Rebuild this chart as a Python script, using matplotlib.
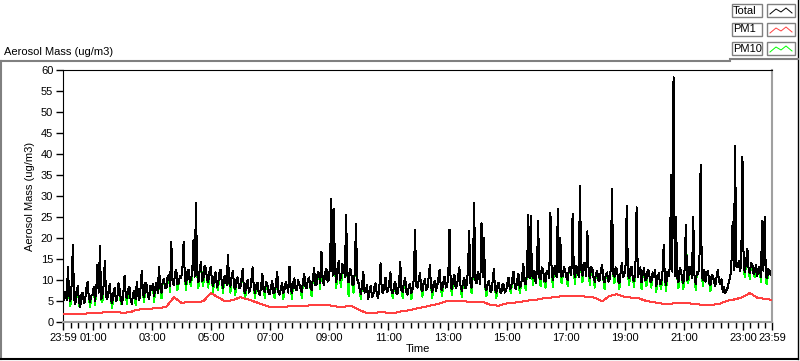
import numpy as np
import matplotlib
matplotlib.use('Agg')
import matplotlib.pyplot as plt
from matplotlib.lines import Line2D
from matplotlib.patches import Rectangle

plt.rcParams['font.family'] = ['Liberation Sans', 'DejaVu Sans']
plt.rcParams['font.size'] = 8

# 2.5-minute samples starting 23:59, one row per hour
total = [
    4.5, 6.0, 7.2, 5.2, 13.0, 6.4, 5.0, 8.8, 18.3, 5.6, 4.2, 7.4, 8.5, 5.0, 3.6, 6.6, 7.0, 4.4, 5.2, 8.0, 9.5, 5.8, 4.8, 6.2,
    6.5, 8.4, 5.0, 7.6, 13.6, 7.0, 18.0, 5.4, 6.2, 8.8, 14.5, 6.0, 5.5, 7.2, 9.0, 5.2, 4.6, 7.0, 8.2, 5.0, 5.3, 9.2, 7.8, 5.4,
    4.3, 7.0, 11.0, 6.2, 5.6, 7.8, 8.4, 5.0, 4.4, 6.8, 7.5, 5.4, 9.6, 6.4, 5.2, 8.0, 12.2, 6.6, 6.0, 9.4, 8.8, 6.2, 5.5, 8.6,
    7.6, 9.0, 6.2, 8.2, 9.4, 7.0, 13.0, 8.4, 7.0, 9.6, 10.2, 8.0, 8.0, 10.8, 11.3, 8.6, 19.0, 9.4, 8.8, 11.6, 12.5, 9.0, 9.2, 11.0,
    10.5, 12.6, 19.0, 10.4, 9.0, 11.8, 12.4, 9.6, 10.1, 12.0, 19.5, 10.8, 28.3, 11.6, 9.4, 12.2, 14.2, 9.8, 10.0, 13.4, 12.8, 10.2, 9.6, 12.0,
    13.2, 9.8, 8.6, 10.8, 11.8, 8.4, 9.0, 11.6, 12.5, 9.4, 8.2, 10.6, 11.0, 8.8, 16.0, 9.6, 8.4, 10.8, 12.2, 8.6, 7.8, 10.2, 10.6, 8.0,
    8.0, 10.4, 12.6, 7.8, 6.8, 9.2, 10.0, 7.0, 7.4, 9.8, 13.0, 8.2, 7.0, 8.8, 9.4, 6.8, 6.4, 8.6, 11.5, 7.4, 7.2, 9.6, 9.0, 7.0,
    6.6, 8.4, 9.8, 6.8, 7.0, 9.0, 12.0, 7.2, 6.5, 8.0, 9.2, 6.8, 7.8, 9.6, 8.6, 7.0, 13.2, 8.2, 6.9, 9.4, 10.4, 7.6, 7.5, 10.0,
    9.2, 7.8, 7.2, 9.6, 11.5, 8.4, 8.0, 10.2, 10.6, 8.2, 7.6, 10.4, 12.8, 8.8, 9.0, 12.0, 11.4, 9.2, 16.7, 10.0, 8.8, 11.8, 12.6, 9.6,
    10.2, 13.6, 29.3, 11.0, 26.9, 12.4, 9.6, 12.8, 14.5, 10.0, 10.8, 13.8, 13.4, 10.6, 25.5, 11.4, 9.4, 12.6, 12.2, 9.0, 8.8, 11.6, 23.4, 10.2,
    9.4, 7.8, 6.6, 9.0, 12.0, 7.0, 7.2, 8.8, 5.4, 7.6, 8.6, 6.0, 6.2, 8.4, 9.2, 6.4, 5.8, 8.2, 14.0, 7.2, 6.8, 8.6, 10.5, 7.2,
    7.4, 9.2, 11.8, 7.0, 6.8, 8.8, 9.6, 6.6, 7.0, 9.0, 14.2, 7.6, 7.2, 9.4, 10.4, 7.0, 6.5, 8.6, 9.0, 6.8, 7.8, 10.2, 22.0, 8.6,
    8.2, 10.0, 11.6, 8.0, 7.4, 9.4, 10.2, 7.6, 8.0, 10.6, 13.6, 8.4, 7.2, 9.0, 9.8, 7.4, 8.6, 10.4, 12.4, 8.0, 7.6, 9.6, 10.8, 8.2,
    8.4, 11.0, 22.0, 8.6, 7.8, 10.2, 11.2, 8.0, 8.6, 10.8, 13.0, 8.4, 7.4, 9.6, 10.6, 8.0, 9.0, 12.4, 21.6, 9.2, 8.2, 11.6, 28.3, 10.0,
    9.2, 12.0, 10.8, 9.0, 23.5, 10.6, 20.0, 8.4, 7.6, 9.2, 9.8, 7.4, 7.2, 9.6, 12.6, 7.8, 7.0, 8.8, 9.4, 7.2, 6.8, 9.0, 8.8, 7.0,
    7.4, 9.2, 10.6, 7.8, 8.2, 10.4, 12.0, 8.4, 7.8, 10.0, 11.4, 8.2, 8.6, 10.8, 13.8, 9.2, 9.0, 12.0, 25.5, 10.4, 25.2, 11.0, 10.4, 12.2,
    9.2, 12.4, 24.0, 10.6, 10.2, 13.0, 12.6, 9.8, 9.6, 12.2, 11.8, 10.4, 26.0, 11.6, 10.0, 12.8, 13.4, 10.6, 27.0, 12.0, 20.0, 10.8, 11.0, 13.2,
    12.2, 10.6, 10.0, 12.8, 13.0, 11.2, 25.7, 12.0, 10.6, 13.4, 12.4, 10.8, 32.4, 12.6, 11.0, 14.0, 13.6, 11.0, 21.6, 12.2, 10.4, 13.0, 12.8, 10.6,
    9.6, 11.6, 12.2, 9.8, 10.0, 12.4, 13.6, 10.2, 9.4, 11.2, 11.8, 9.6, 10.2, 12.6, 31.7, 11.4, 10.8, 13.0, 12.6, 10.0, 9.2, 11.8, 14.0, 10.6,
    11.2, 13.4, 27.6, 11.0, 10.4, 12.6, 13.2, 10.2, 9.8, 12.8, 27.3, 10.8, 11.6, 13.0, 9.4, 11.4, 12.8, 10.0, 10.2, 12.4, 12.0, 9.8, 9.6, 11.8,
    10.8, 12.4, 8.6, 10.6, 11.6, 9.0, 9.2, 11.8, 18.3, 10.0, 8.8, 12.0, 11.0, 13.2, 35.0, 12.0, 58.3, 11.0, 25.0, 10.6, 9.4, 12.8, 12.4, 10.2,
    9.2, 12.6, 23.0, 10.0, 10.6, 13.2, 12.8, 10.4, 25.0, 11.2, 9.0, 12.0, 11.4, 13.6, 37.4, 10.8, 10.0, 12.4, 9.6, 11.8, 12.2, 9.4, 8.8, 11.2,
    11.0, 9.4, 8.6, 10.8, 12.4, 9.6, 9.0, 10.2, 7.2, 8.4, 6.8, 7.6, 8.2, 9.8, 10.4, 13.6, 23.8, 12.4, 42.0, 13.2, 13.0, 14.6, 12.2, 13.8,
    39.3, 12.8, 12.0, 14.4, 17.5, 12.4, 11.6, 14.0, 13.8, 11.4, 12.0, 13.6, 11.0, 12.8, 13.2, 10.6, 24.0, 12.2, 25.0, 11.0, 10.4, 12.6, 12.2, 11.2,
]

pm10 = [
    4.5, 6.0, 7.2, 5.2, 13.0, 6.4, 3.8, 8.8, 18.3, 5.6, 4.2, 7.4, 8.5, 3.8, 3.6, 6.6, 7.0, 4.4, 5.2, 8.0, 9.5, 5.8, 3.6, 6.2,
    6.5, 8.4, 4.0, 7.6, 13.6, 7.0, 18.0, 5.4, 4.8, 8.8, 14.5, 6.0, 5.5, 7.2, 9.0, 5.2, 3.4, 7.0, 8.2, 5.0, 5.3, 9.2, 7.8, 4.2,
    4.3, 7.0, 11.0, 6.2, 4.2, 7.8, 8.4, 5.0, 4.4, 6.8, 7.5, 4.0, 9.6, 6.4, 5.2, 8.0, 12.2, 6.6, 4.8, 9.4, 8.8, 6.2, 5.5, 8.6,
    7.6, 9.0, 4.8, 8.2, 9.4, 7.0, 13.0, 8.4, 5.6, 9.6, 10.2, 8.0, 8.0, 10.8, 11.3, 7.2, 19.0, 9.4, 8.8, 11.6, 12.5, 7.6, 9.2, 11.0,
    10.5, 12.6, 19.0, 10.4, 7.6, 11.8, 12.4, 9.6, 8.6, 12.0, 19.5, 10.8, 28.3, 11.6, 8.0, 12.2, 14.2, 9.8, 8.6, 13.4, 12.8, 10.2, 8.2, 12.0,
    13.2, 9.8, 7.2, 10.8, 11.8, 8.4, 7.6, 11.6, 12.5, 9.4, 6.8, 10.6, 11.0, 8.8, 16.0, 9.6, 7.0, 10.8, 12.2, 8.6, 6.4, 10.2, 10.6, 8.0,
    8.0, 10.4, 12.6, 7.8, 5.4, 9.2, 10.0, 7.0, 7.4, 9.8, 13.0, 8.2, 5.6, 8.8, 9.4, 6.8, 6.4, 8.6, 11.5, 7.4, 5.8, 9.6, 9.0, 7.0,
    6.6, 8.4, 9.8, 6.8, 5.6, 9.0, 12.0, 7.2, 6.5, 8.0, 9.2, 5.4, 7.8, 9.6, 8.6, 7.0, 13.2, 8.2, 5.5, 9.4, 10.4, 7.6, 7.5, 10.0,
    9.2, 7.8, 5.8, 9.6, 11.5, 8.4, 8.0, 10.2, 10.6, 8.2, 6.2, 10.4, 12.8, 8.8, 9.0, 12.0, 11.4, 7.8, 16.7, 10.0, 8.8, 11.8, 12.6, 9.6,
    10.2, 13.6, 29.3, 11.0, 26.9, 12.4, 8.0, 12.8, 14.5, 10.0, 8.4, 13.8, 13.4, 10.6, 25.5, 11.4, 6.2, 12.6, 12.2, 9.0, 7.0, 11.6, 23.4, 10.2,
    9.4, 7.8, 5.4, 9.0, 12.0, 7.0, 7.2, 8.8, 5.4, 7.6, 8.6, 6.0, 6.2, 8.4, 9.2, 6.4, 5.8, 8.2, 14.0, 7.2, 6.8, 8.6, 10.5, 7.2,
    7.4, 9.2, 11.8, 7.0, 5.6, 8.8, 9.6, 6.6, 7.0, 9.0, 14.2, 7.6, 5.8, 9.4, 10.4, 7.0, 6.5, 8.6, 9.0, 5.4, 7.8, 10.2, 22.0, 8.6,
    8.2, 10.0, 11.6, 8.0, 6.0, 9.4, 10.2, 7.6, 8.0, 10.6, 13.6, 8.4, 5.8, 9.0, 9.8, 7.4, 8.6, 10.4, 12.4, 8.0, 6.2, 9.6, 10.8, 8.2,
    8.4, 11.0, 22.0, 8.6, 6.4, 10.2, 11.2, 8.0, 8.6, 10.8, 13.0, 8.4, 6.0, 9.6, 10.6, 8.0, 9.0, 12.4, 21.6, 9.2, 6.8, 11.6, 28.3, 10.0,
    9.2, 12.0, 10.8, 9.0, 23.5, 10.6, 20.0, 8.4, 6.2, 9.2, 9.8, 7.4, 7.2, 9.6, 12.6, 7.8, 5.6, 8.8, 9.4, 7.2, 6.8, 9.0, 8.8, 7.0,
    7.4, 9.2, 10.6, 7.8, 6.8, 10.4, 12.0, 8.4, 7.8, 10.0, 11.4, 6.8, 8.6, 10.8, 13.8, 9.2, 7.6, 12.0, 25.5, 10.4, 25.2, 11.0, 8.8, 12.2,
    9.2, 12.4, 24.0, 10.6, 8.6, 13.0, 12.6, 9.8, 8.2, 12.2, 11.8, 10.4, 26.0, 11.6, 8.4, 12.8, 13.4, 10.6, 27.0, 12.0, 20.0, 9.2, 11.0, 13.2,
    12.2, 10.6, 8.6, 12.8, 13.0, 11.2, 25.7, 12.0, 9.0, 13.4, 12.4, 10.8, 32.4, 12.6, 9.4, 14.0, 13.6, 11.0, 21.6, 12.2, 8.8, 13.0, 12.8, 10.6,
    8.2, 11.6, 12.2, 9.8, 10.0, 12.4, 13.6, 10.2, 7.8, 11.2, 11.8, 9.6, 10.2, 12.6, 31.7, 11.4, 9.2, 13.0, 12.6, 10.0, 7.8, 11.8, 14.0, 10.6,
    11.2, 13.4, 27.6, 11.0, 8.8, 12.6, 13.2, 10.2, 8.4, 12.8, 27.3, 10.8, 11.6, 13.0, 7.8, 11.4, 12.8, 10.0, 8.6, 12.4, 12.0, 9.8, 8.2, 11.8,
    10.8, 12.4, 7.2, 10.6, 11.6, 9.0, 7.8, 11.8, 18.3, 10.0, 7.4, 12.0, 11.0, 13.2, 35.0, 12.0, 58.3, 11.0, 25.0, 10.6, 8.0, 12.8, 12.4, 10.2,
    7.8, 12.6, 23.0, 10.0, 9.2, 13.2, 12.8, 10.4, 25.0, 11.2, 7.6, 12.0, 11.4, 13.6, 37.4, 10.8, 8.6, 12.4, 9.6, 11.8, 12.2, 9.4, 7.4, 11.2,
    11.0, 9.4, 8.6, 10.8, 12.4, 9.6, 9.0, 10.2, 7.2, 8.4, 6.8, 7.6, 8.2, 9.8, 10.4, 13.6, 23.8, 12.4, 42.0, 13.2, 13.0, 14.6, 12.2, 13.8,
    39.3, 12.8, 10.6, 14.4, 17.5, 12.4, 10.2, 14.0, 13.8, 11.4, 10.6, 13.6, 11.0, 12.8, 13.2, 9.4, 24.0, 12.2, 25.0, 9.6, 9.0, 12.6, 12.2, 11.2,
]

# 15-minute samples starting 23:59
pm1 = [
    1.9, 1.8, 1.9, 2.0, 2.1, 2.2, 2.4, 2.5,
    2.2, 2.3, 2.9, 3.1, 3.2, 3.3, 3.6, 5.9,
    4.6, 4.7, 4.8, 4.9, 6.9, 5.9, 4.9, 5.2,
    5.9, 5.4, 4.8, 4.2, 3.6, 3.5, 3.6, 3.8,
    3.8, 3.9, 4.0, 4.1, 4.0, 3.7, 3.6, 3.9,
    3.0, 2.2, 2.1, 2.4, 2.2, 2.2, 2.6, 2.8,
    3.3, 3.6, 4.0, 4.4, 5.0, 5.1, 5.0, 4.8,
    4.7, 4.7, 4.0, 3.9, 4.4, 4.6, 4.8, 5.1,
    5.3, 5.6, 5.8, 6.0, 6.3, 6.3, 6.2, 6.0,
    5.8, 4.9, 6.2, 6.6, 6.0, 5.8, 5.6, 5.0,
    4.7, 4.4, 4.3, 4.5, 4.6, 4.4, 4.2, 4.0,
    4.1, 4.4, 5.1, 5.4, 5.9, 6.9, 5.8, 5.5,
    5.3,
]

series_names = ['Total', 'PM1', 'PM10']
series_colors = ['#000000', '#ff4040', '#00ff00']

tick_hours = [-1 / 60] + list(range(1, 24, 2)) + [24 - 1 / 60]
tick_labels = ['23:59'] + ['%02d:00' % h for h in range(1, 24, 2)] + ['23:59']

start = -1 / 60
t_total = start + np.arange(len(total)) * 2.5 / 60
t_pm10 = start + np.arange(len(pm10)) * 2.5 / 60
t_pm1 = start + np.arange(len(pm1)) * 15 / 60

fig = plt.figure(figsize=(8, 3.61), dpi=100)
W, H = 800, 361


def fx(x):
    return x / W


def fy(y):
    return 1 - y / H


ax = fig.add_axes([fx(63), fy(322), fx(772) - fx(63), fy(70) - fy(322)])
ax.plot(t_pm10, pm10, color=series_colors[2], lw=0.72, antialiased=False, zorder=1)
ax.plot(t_total, total, color=series_colors[0], lw=0.72, antialiased=False, zorder=2)
ax.plot(t_pm1, pm1, color=series_colors[1], lw=0.72, antialiased=False, zorder=3)

ax.set_xlim(start, 24 - 1 / 60)
ax.set_ylim(0, 60)
ax.set_yticks(range(0, 61, 5))
ax.set_xticks(tick_hours)
ax.set_xticklabels(tick_labels)
ax.set_xticks(np.arange(0.25, 24, 0.25), minor=True)
ax.tick_params(axis='both', which='major', length=5, width=1, color='black', pad=2)
ax.tick_params(axis='x', which='major', length=6)
ax.tick_params(axis='x', which='minor', length=4, width=1, color='black')
ax.set_xlabel('Time', labelpad=1)
ax.set_ylabel('Aerosol Mass (ug/m3)', labelpad=4)
for side in ['top', 'left']:
    ax.spines[side].set_color('black')
for side in ['bottom', 'right']:
    ax.spines[side].set_color('#a0a0a0')
    ax.spines[side].set_linewidth(1.5)

fig.text(fx(4), fy(52), 'Aerosol Mass (ug/m3)', va='center', ha='left')

# outer panel frame
fig.add_artist(Line2D([fx(0), fx(730)], [fy(61), fy(61)], color='#808080', lw=1.5))
fig.add_artist(Line2D([fx(1), fx(1)], [fy(61), fy(359)], color='#808080', lw=1.5))
fig.add_artist(Line2D([fx(0), fx(798)], [fy(359), fy(359)], color='black', lw=1.5))
fig.add_artist(Line2D([fx(798), fx(798)], [fy(0), fy(359)], color='black', lw=1))
fig.add_artist(Line2D([fx(730), fx(798)], [fy(59), fy(59)], color='#808080', lw=1.5))

# legend boxes
row_tops = [4, 23, 42]
for name, color, top in zip(series_names, series_colors, row_tops):
    fig.add_artist(Rectangle((fx(732), fy(top + 13)), fx(30), fy(0) - fy(13),
                             facecolor='white', edgecolor='#808080', lw=1))
    fig.add_artist(Rectangle((fx(767), fy(top + 13)), fx(28), fy(0) - fy(13),
                             facecolor='white', edgecolor='#808080', lw=1))
    fig.text(fx(733), fy(top + 6.5), name, va='center', ha='left', fontsize=8)
    zx = [770, 776, 781, 786, 792]
    zy = [top + 10, top + 5, top + 8, top + 4, top + 9]
    fig.add_artist(Line2D([fx(v) for v in zx], [fy(v) for v in zy], color=color, lw=0.7))

fig.savefig('out.png', dpi=100)
